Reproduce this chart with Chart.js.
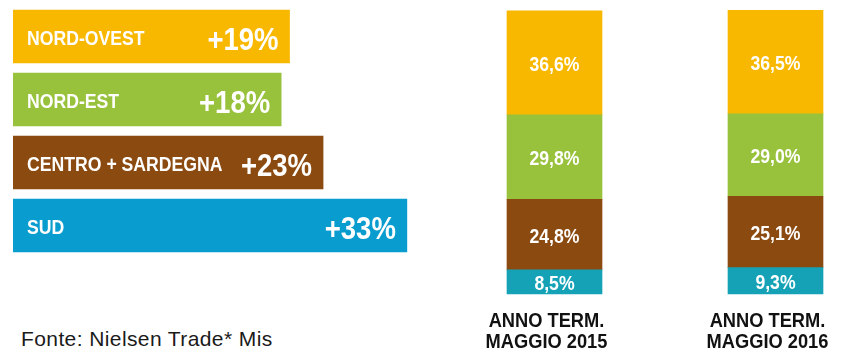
<!DOCTYPE html>
<html>
<head>
<meta charset="utf-8">
<script src="https://cdn.jsdelivr.net/npm/chart.js@4.4.1/dist/chart.umd.min.js"></script>
<style>
  body { margin: 0; background: #fff; width: 844px; height: 354px; overflow: hidden; position: relative; }
  #boxCrescita { position: absolute; left: 0; top: 5px; width: 432px; height: 252px; }
  #boxQuote { position: absolute; left: 444px; top: 0; width: 400px; height: 354px; }
  #fonte {
    position: absolute; left: 21px; top: 328px;
    font: 21px "Liberation Sans", Arial, sans-serif;
    letter-spacing: 0.4px;
    line-height: 21px; color: #1a1a1a;
  }
</style>
</head>
<body>
<div id="boxCrescita"><canvas id="crescita"></canvas></div>
<div id="boxQuote"><canvas id="quote"></canvas></div>
<div id="fonte">Fonte: Nielsen Trade* Mis</div>
<script>
const FONT = '"Liberation Sans", Arial, sans-serif';

// growth by area
const regioni = ["NORD-OVEST", "NORD-EST", "CENTRO + SARDEGNA", "SUD"];
const crescita = [19, 18, 23, 33];
const coloriRegioni = ["#F9B800", "#98C13C", "#8B4A10", "#099CCF"];

// share by area, two periods
const periodi = [["ANNO TERM.", "MAGGIO 2015"], ["ANNO TERM.", "MAGGIO 2016"]];
const quotaNordOvest = [36.6, 36.5];
const quotaNordEst = [29.8, 29.0];
const quotaCentro = [24.8, 25.1];
const quotaSud = [8.5, 9.3];

// no condensed face installed, so squeeze the bold text horizontally
function testoStretto(ctx, testo, x, y, ratio) {
  const w = ctx.measureText(testo).width;
  ctx.fillText(testo, x, y, w * ratio);
}

const etichetteCrescita = {
  id: "etichetteCrescita",
  afterDatasetsDraw(chart) {
    const ctx = chart.ctx;
    chart.getDatasetMeta(0).data.forEach((bar, i) => {
      const left = Math.min(bar.x, bar.base);
      ctx.save();
      ctx.fillStyle = "#fff";
      ctx.textBaseline = "alphabetic";
      ctx.textAlign = "left";
      ctx.font = "bold 21px " + FONT;
      testoStretto(ctx, regioni[i], left + 14, bar.y + 8, 0.84);
      ctx.textAlign = "right";
      ctx.font = "bold 32px " + FONT;
      testoStretto(ctx, "+" + crescita[i] + "%", bar.x - 11, bar.y + 13, 0.86);
      ctx.restore();
    });
  }
};

new Chart(document.getElementById("crescita"), {
  type: "bar",
  data: {
    labels: regioni,
    datasets: [{
      data: crescita,
      base: -14,
      backgroundColor: coloriRegioni,
      barThickness: 53
    }]
  },
  options: {
    indexAxis: "y",
    responsive: true,
    maintainAspectRatio: false,
    animation: false,
    layout: { padding: { left: 13 } },
    plugins: { legend: { display: false }, tooltip: { enabled: false } },
    scales: {
      x: { type: "linear", min: -14, max: 36, display: false },
      y: { display: false }
    }
  },
  plugins: [etichetteCrescita]
});

const fmt = (v) => v.toFixed(1).replace(".", ",") + "%";

const etichetteQuote = {
  id: "etichetteQuote",
  afterDatasetsDraw(chart) {
    const ctx = chart.ctx;
    ctx.save();
    ctx.textAlign = "center";
    ctx.textBaseline = "alphabetic";
    ctx.fillStyle = "#fff";
    ctx.font = "bold 21px " + FONT;
    chart.data.datasets.forEach((ds, d) => {
      chart.getDatasetMeta(d).data.forEach((bar, i) => {
        testoStretto(ctx, fmt(ds.data[i]), bar.x, (bar.y + bar.base) / 2 + 8, 0.84);
      });
    });
    // period labels under each column
    const xScale = chart.scales.x;
    ctx.fillStyle = "#111";
    chart.data.labels.forEach((righe, i) => {
      const x = xScale.getPixelForTick(i) - 8;
      righe.forEach((riga, r) => {
        testoStretto(ctx, riga, x, chart.chartArea.bottom + 33 + r * 21, 0.87);
      });
    });
    ctx.restore();
  }
};

new Chart(document.getElementById("quote"), {
  type: "bar",
  data: {
    labels: periodi,
    datasets: [
      { label: "SUD", data: quotaSud, backgroundColor: "#15A2B7" },
      { label: "CENTRO + SARDEGNA", data: quotaCentro, backgroundColor: "#8B4A10" },
      { label: "NORD-EST", data: quotaNordEst, backgroundColor: "#98C13C" },
      { label: "NORD-OVEST", data: quotaNordOvest, backgroundColor: "#F9B800" }
    ]
  },
  options: {
    responsive: true,
    maintainAspectRatio: false,
    animation: false,
    datasets: { bar: { barThickness: 95, clip: false } },
    layout: { padding: { left: 110.5, right: 68.5, top: 10, bottom: 60 } },
    plugins: { legend: { display: false }, tooltip: { enabled: false } },
    scales: {
      x: { stacked: true, offset: false, display: false },
      y: { stacked: true, min: 0, max: 100, display: false }
    }
  },
  plugins: [etichetteQuote]
});
</script>
</body>
</html>
